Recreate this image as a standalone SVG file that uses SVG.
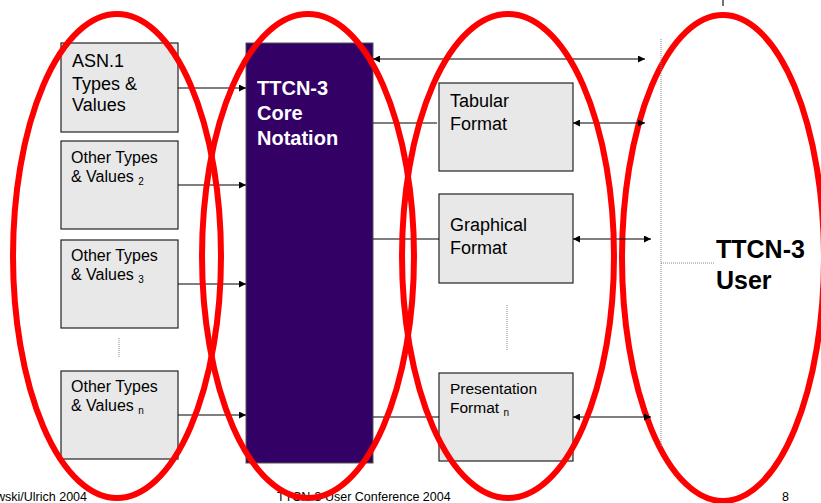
<svg xmlns="http://www.w3.org/2000/svg" width="821" height="503" viewBox="0 0 821 503">
<style>
.box{fill:#e8e8e8;stroke:#222;stroke-width:1.2}
.core{fill:#330066;stroke:#555;stroke-width:1}
.t{font-family:"Liberation Sans",Arial,sans-serif;fill:#000}
.ln{stroke:#000;stroke-width:1.1;fill:none}
.dot{stroke:#888;stroke-width:1;stroke-dasharray:1,1;fill:none}
.ring{fill:none;stroke:#ff0000;stroke-width:6}
.foot{font-family:"Liberation Sans",Arial,sans-serif;font-size:12.5px;fill:#000}
</style>
<defs>
<marker id="ah" viewBox="0 0 10 10" refX="10" refY="5" markerWidth="8" markerHeight="7" markerUnits="userSpaceOnUse" orient="auto-start-reverse">
<path d="M0,0 L10,5 L0,10 z" fill="#000"/>
</marker>
</defs>
<rect width="821" height="503" fill="#fff"/>
<g id="ring-user">
<ellipse class="ring" cx="723" cy="258" rx="101" ry="243"/>
</g>
<g id="asn1">
<rect class="box" x="61" y="43" width="117" height="89"/>
<text class="t" font-size="18" x="72" y="67">ASN.1</text>
<text class="t" font-size="18" x="72" y="90">Types &amp;</text>
<text class="t" font-size="18" x="72" y="111">Values</text>
</g>
<g id="other2">
<rect class="box" x="61" y="141" width="117" height="88"/>
<text class="t" font-size="16" x="71" y="163">Other Types</text>
<text class="t" font-size="16" x="71" y="182">&amp; Values <tspan font-size="10" dy="3">2</tspan></text>
</g>
<g id="other3">
<rect class="box" x="61" y="240" width="117" height="88"/>
<text class="t" font-size="16" x="71" y="261">Other Types</text>
<text class="t" font-size="16" x="71" y="280">&amp; Values <tspan font-size="10" dy="3">3</tspan></text>
</g>
<g id="othern">
<rect class="box" x="61" y="371" width="117" height="88"/>
<text class="t" font-size="16" x="71" y="392">Other Types</text>
<text class="t" font-size="16" x="71" y="411">&amp; Values <tspan font-size="10" dy="3">n</tspan></text>
</g>
<g id="core">
<rect class="core" x="246" y="43" width="127" height="420"/>
<text class="t" font-size="20" font-weight="bold" style="fill:#fff" x="257" y="95">TTCN-3</text>
<text class="t" font-size="20" font-weight="bold" style="fill:#fff" x="257" y="120">Core</text>
<text class="t" font-size="20" font-weight="bold" style="fill:#fff" x="257" y="145">Notation</text>
</g>
<g id="tabular">
<rect class="box" x="439" y="83" width="134" height="88"/>
<text class="t" font-size="18" x="450" y="107">Tabular</text>
<text class="t" font-size="18" x="450" y="130">Format</text>
</g>
<g id="graphical">
<rect class="box" x="439" y="194" width="134" height="89"/>
<text class="t" font-size="18" x="450" y="231">Graphical</text>
<text class="t" font-size="18" x="450" y="254">Format</text>
</g>
<g id="presentation">
<rect class="box" x="439" y="373" width="134" height="88"/>
<text class="t" font-size="15.5" x="450" y="394">Presentation</text>
<text class="t" font-size="15.5" x="450" y="413">Format <tspan font-size="10" dy="3">n</tspan></text>
</g>
<g id="user">
<line class="dot" x1="661" y1="39" x2="661" y2="447"/>
<line class="dot" x1="661" y1="263" x2="714" y2="263"/>
<text class="t" font-size="25" font-weight="bold" x="716" y="258">TTCN-3</text>
<text class="t" font-size="25" font-weight="bold" x="716" y="289">User</text>
</g>
<g id="connectors">
<line class="ln" x1="178" y1="88" x2="246" y2="88" marker-end="url(#ah)"/>
<line class="ln" x1="178" y1="185" x2="246" y2="185" marker-end="url(#ah)"/>
<line class="ln" x1="178" y1="284" x2="246" y2="284" marker-end="url(#ah)"/>
<line class="ln" x1="178" y1="415" x2="246" y2="415" marker-end="url(#ah)"/>
<line class="ln" x1="373" y1="59" x2="645" y2="59" marker-start="url(#ah)" marker-end="url(#ah)"/>
<line class="ln" x1="373" y1="123" x2="437" y2="123"/>
<line class="ln" x1="573" y1="123" x2="645" y2="123" marker-start="url(#ah)" marker-end="url(#ah)"/>
<line class="ln" x1="373" y1="239" x2="439" y2="239"/>
<line class="ln" x1="573" y1="239" x2="651" y2="239" marker-start="url(#ah)" marker-end="url(#ah)"/>
<line class="ln" x1="373" y1="417" x2="439" y2="417" stroke="#444"/>
<line class="ln" x1="573" y1="417" x2="651" y2="417" marker-start="url(#ah)" marker-end="url(#ah)"/>
<line class="dot" x1="119" y1="338" x2="119" y2="358"/>
<line class="dot" x1="507" y1="305" x2="507" y2="350"/>
<line class="ln" x1="723" y1="0" x2="723" y2="6"/>
</g>
<g id="footer">
<text class="foot" x="-4" y="501">wski/Ulrich 2004</text>
<text class="foot" x="277" y="501">TTCN-3 User Conference 2004</text>
<text class="foot" x="782" y="501">8</text>
</g>
<g id="rings">
<ellipse class="ring" cx="117" cy="256" rx="104" ry="242"/>
<ellipse class="ring" cx="308" cy="256" rx="106" ry="242"/>
<ellipse class="ring" cx="508" cy="256" rx="106" ry="242"/>
</g>
</svg>
